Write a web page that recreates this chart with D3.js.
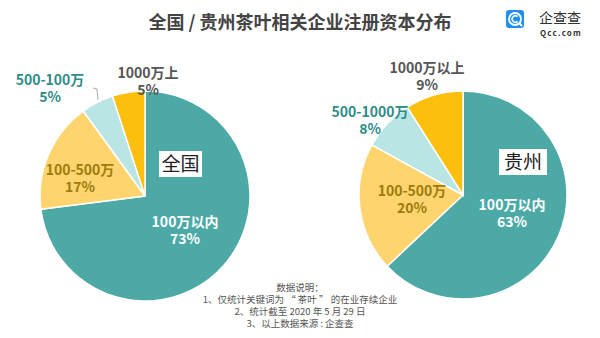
<!DOCTYPE html>
<html>
<head>
<meta charset="utf-8">
<script src="https://cdn.jsdelivr.net/npm/d3@7"></script>
<style>
  html, body { margin: 0; padding: 0; background: #fff; }
  svg { display: block; font-family: "Noto Sans CJK SC", "Noto Sans", sans-serif; }
</style>
</head>
<body>
<svg id="chart" width="600" height="338"></svg>
<script>
// Registered capital brackets (share of tea-related companies, %)
const nationalLabels = ["100万以内", "100-500万", "500-100万", "1000万上"];
const nationalShare = [73, 17, 5, 5];
const guizhouLabels = ["100万以内", "100-500万", "500-1000万", "1000万以上"];
const guizhouShare = [63, 20, 8, 9];
const sliceColors = ["#4ca9a6", "#fdd46e", "#b9e5e5", "#fdbf0d"];
const labelColors = ["#ffffff", "#9c7c0c", "#2f8c88", "#555555"];
const notes = [
  "数据说明：",
  "1、仅统计关键词为 \u201c 茶叶 \u201d 的在业存续企业",
  "2、统计截至 2020 年 5 月 29 日",
  "3、以上数据来源 : 企查查"
];

const svg = d3.select("#chart");

svg.append("text")
  .attr("x", 300).attr("y", 29)
  .attr("text-anchor", "middle")
  .attr("font-size", 18).attr("font-weight", "bold")
  .attr("fill", "#444")
  .text("全国 / 贵州茶叶相关企业注册资本分布");

// brand mark
const logo = svg.append("g").attr("transform", "translate(506,10)");
logo.append("rect").attr("width", 18).attr("height", 18).attr("rx", 3).attr("fill", "#1f8ff0");
logo.append("circle").attr("cx", 9).attr("cy", 9).attr("r", 6).attr("fill", "none").attr("stroke", "#fff").attr("stroke-width", 1.8);
logo.append("path").attr("d", "M11.5,6.6 A3.2,3.2 0 1 0 11.5,11.4").attr("fill", "none").attr("stroke", "#fff").attr("stroke-width", 1.5);
logo.append("path").attr("d", "M13,13 L16,16").attr("stroke", "#fff").attr("stroke-width", 1.8);
svg.append("text").attr("x", 539).attr("y", 23).attr("font-size", 14).attr("fill", "#333").text("企查查");
svg.append("text").attr("x", 540).attr("y", 36).attr("font-size", 8).attr("font-weight", "bold")
  .attr("letter-spacing", 1.2).attr("fill", "#333").text("Qcc.com");

const pie = d3.pie().sort(null).value(d => d);

function drawPie(cfg) {
  const g = svg.append("g").attr("transform", `translate(${cfg.cx},${cfg.cy})`);
  const arc = d3.arc().innerRadius(0).outerRadius(cfg.r);
  const arcs = pie(cfg.values);
  g.selectAll("path.slice").data(arcs).enter().append("path")
    .attr("class", "slice")
    .attr("d", arc)
    .attr("fill", (d, i) => sliceColors[i])
    .attr("stroke", "#fff").attr("stroke-width", 1.5);

  // region tag
  g.append("rect")
    .attr("x", cfg.tag.x).attr("y", cfg.tag.y)
    .attr("width", cfg.tag.w).attr("height", 26)
    .attr("fill", "#fff");
  g.append("text")
    .attr("x", cfg.tag.x + cfg.tag.w / 2).attr("y", cfg.tag.y + 20)
    .attr("text-anchor", "middle")
    .attr("font-size", 19).attr("fill", "#222")
    .text(cfg.name);

  // slice labels: bracket name, then its share
  arcs.forEach((d, i) => {
    const p = cfg.labelPos[i];
    [cfg.labels[i], d.data + "%"].forEach((s, k) => {
      g.append("text")
        .attr("x", p[0]).attr("y", p[1] + k * 17)
        .attr("text-anchor", "middle")
        .attr("font-size", 14).attr("font-weight", "bold")
        .attr("fill", labelColors[i])
        .text(s);
    });
  });

  if (cfg.leader) {
    g.append("path").attr("d", cfg.leader)
      .attr("fill", "none").attr("stroke", "#aaa").attr("stroke-width", 1);
  }
}

drawPie({
  cx: 145, cy: 196, r: 105,
  values: nationalShare, labels: nationalLabels, name: "全国",
  tag: { x: 14, y: -45, w: 43 },
  labelPos: [[40, 31], [-65, -21], [-95, -111], [3, -118]],
  leader: "M-52,-108 L-48,-107 L-47,-96"
});

drawPie({
  cx: 463, cy: 195, r: 104,
  values: guizhouShare, labels: guizhouLabels, name: "贵州",
  tag: { x: 36, y: -46, w: 48 },
  labelPos: [[49, 15], [-51, 1], [-93, -78], [-36, -122]]
});

notes.forEach((s, i) => {
  svg.append("text")
    .attr("x", 300).attr("y", 291 + i * 12)
    .attr("text-anchor", "middle")
    .attr("font-size", 9.5).attr("fill", "#555")
    .text(s);
});
</script>
</body>
</html>
